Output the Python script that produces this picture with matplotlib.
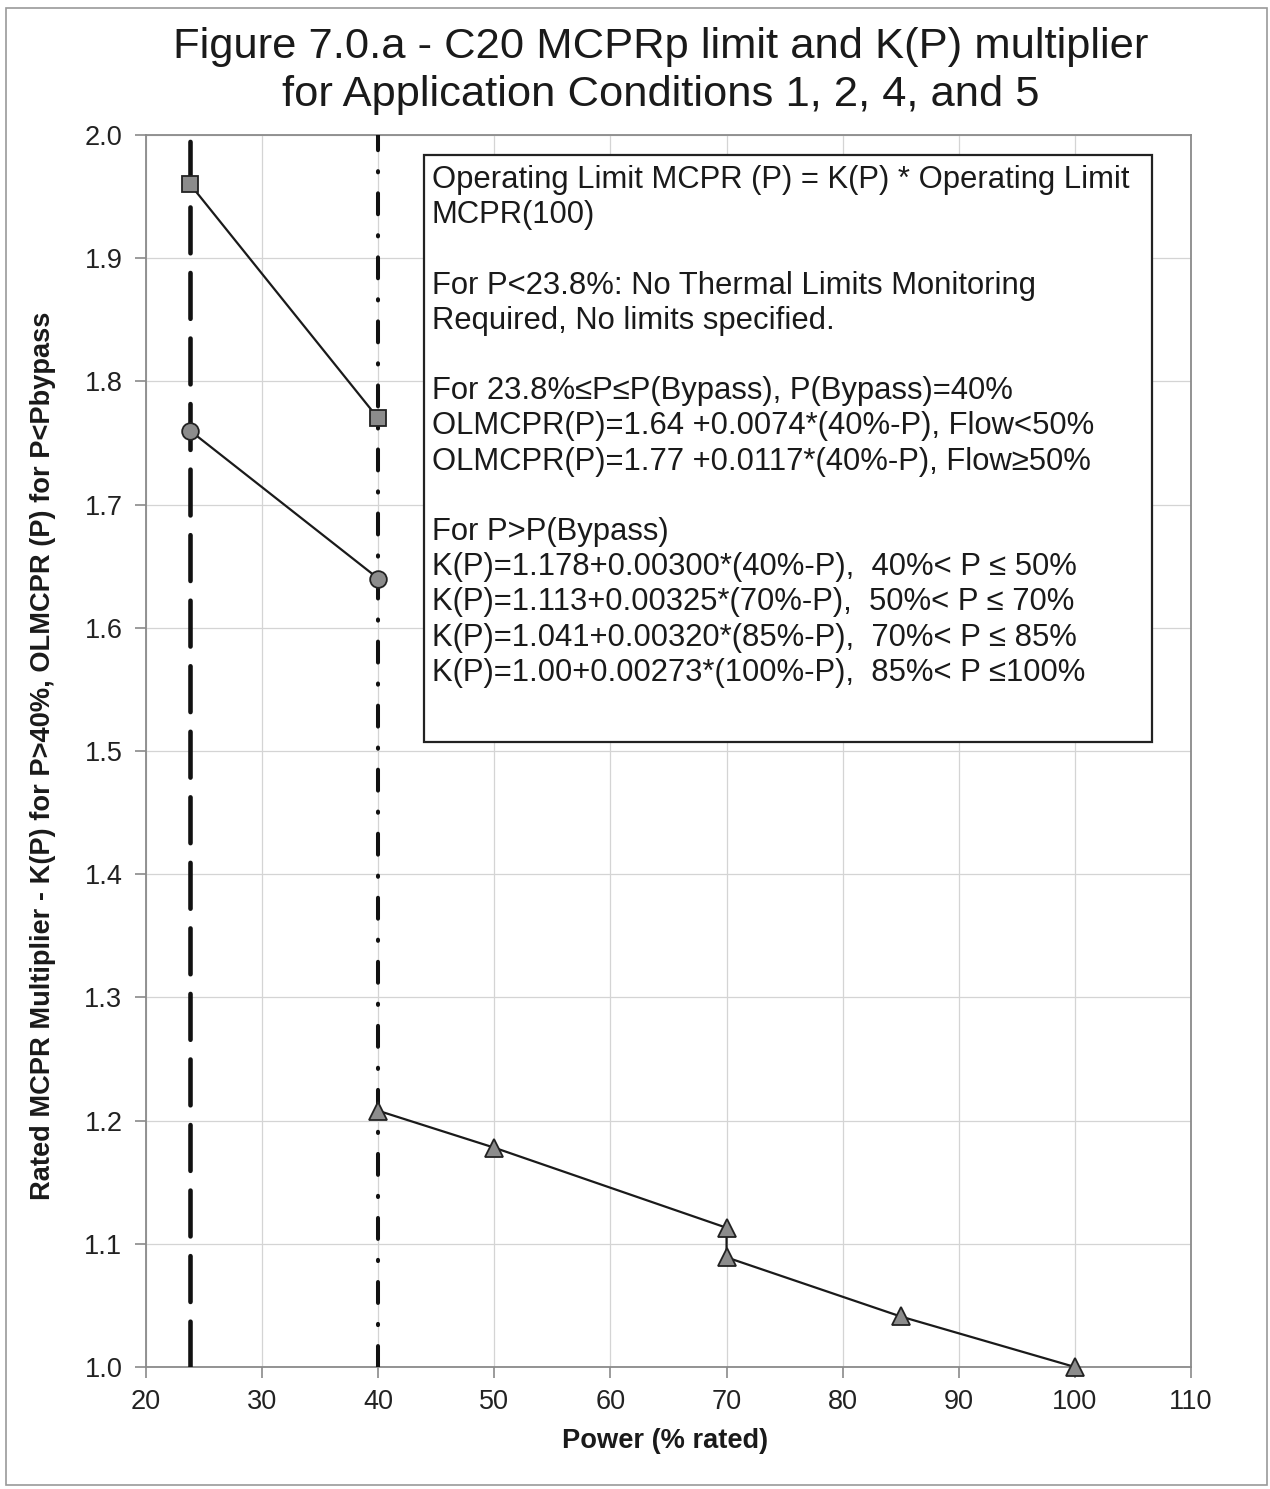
import matplotlib
matplotlib.use("Agg")
import matplotlib.pyplot as plt
from matplotlib.patches import Rectangle

plt.rcParams['font.family'] = ['Liberation Sans', 'DejaVu Sans']

# ---- data ----
sq_x = [23.8, 40]
sq_y = [1.96, 1.77]
circ_x = [23.8, 40]
circ_y = [1.76, 1.64]
tri_x = [40, 50, 70, 70, 85, 100]
tri_y = [1.208, 1.178, 1.113, 1.089, 1.041, 1.00]
vline_dash_x = 23.8
vline_dashdot_x = 40
vline_y = [1.0, 2.0]
xticks = [20, 30, 40, 50, 60, 70, 80, 90, 100, 110]
yticks = [1.0, 1.1, 1.2, 1.3, 1.4, 1.5, 1.6, 1.7, 1.8, 1.9, 2.0]

title = "Figure 7.0.a - C20 MCPRp limit and K(P) multiplier\nfor Application Conditions 1, 2, 4, and 5"
xlabel = "Power (% rated)"
ylabel = "Rated MCPR Multiplier - K(P) for P>40%, OLMCPR (P) for P<Pbypass"
box_lines = [
    "Operating Limit MCPR (P) = K(P) * Operating Limit",
    "MCPR(100)",
    "",
    "For P<23.8%: No Thermal Limits Monitoring",
    "Required, No limits specified.",
    "",
    "For 23.8%\u2264P\u2264P(Bypass), P(Bypass)=40%",
    "OLMCPR(P)=1.64 +0.0074*(40%-P), Flow<50%",
    "OLMCPR(P)=1.77 +0.0117*(40%-P), Flow\u226550%",
    "",
    "For P>P(Bypass)",
    "K(P)=1.178+0.00300*(40%-P),  40%< P \u2264 50%",
    "K(P)=1.113+0.00325*(70%-P),  50%< P \u2264 70%",
    "K(P)=1.041+0.00320*(85%-P),  70%< P \u2264 85%",
    "K(P)=1.00+0.00273*(100%-P),  85%< P \u2264100%",
]

W, H = 1270, 1489
fig = plt.figure(figsize=(W / 100, H / 100), dpi=100)
fig.patch.set_facecolor('white')

# outer border
fig.patches.append(Rectangle((6 / W, 1 - 1485 / H), (1267 - 6) / W, (1485 - 8) / H,
                             transform=fig.transFigure, fill=False,
                             edgecolor='#9a9a9a', linewidth=1.2))

ax_l, ax_r, ax_t, ax_b = 146, 1191, 135, 1367
ax = fig.add_axes([ax_l / W, 1 - ax_b / H, (ax_r - ax_l) / W, (ax_b - ax_t) / H])

ax.set_xlim(20, 110)
ax.set_ylim(1.0, 2.0)
ax.set_xticks(xticks)
ax.set_yticks(yticks)
ax.set_xticklabels([str(v) for v in xticks])
ax.set_yticklabels([f"{v:.1f}" for v in yticks])
ax.grid(True, color='#d4d4d4', linewidth=0.9)
ax.set_axisbelow(True)
for s in ax.spines.values():
    s.set_color('#8a8a8a')
    s.set_linewidth(1.3)
ax.tick_params(axis='both', direction='out', length=8, width=1.2, color='#8a8a8a',
               labelsize=19.5, labelcolor='#222222')
ax.tick_params(axis='x', pad=8)
ax.tick_params(axis='y', pad=9)

# vertical lines
ax.plot([vline_dash_x, vline_dash_x], vline_y, color='#111111', linewidth=3.3,
        dashes=(10, 4.3), dash_capstyle='round', zorder=3)
ax.plot([vline_dashdot_x, vline_dashdot_x], vline_y, color='#111111', linewidth=2.9,
        dashes=(5.2, 5.2, 0.3, 5.2), dash_capstyle='round', zorder=3)

marker_fc = '#8c8c8c'
marker_ec = '#222222'
ax.plot(sq_x, sq_y, color='#1a1a1a', linewidth=1.6, marker='s', markersize=11,
        markerfacecolor=marker_fc, markeredgecolor=marker_ec, markeredgewidth=1.3,
        zorder=4, clip_on=False)
ax.plot(circ_x, circ_y, color='#1a1a1a', linewidth=1.6, marker='o', markersize=12,
        markerfacecolor=marker_fc, markeredgecolor=marker_ec, markeredgewidth=1.3,
        zorder=4, clip_on=False)
ax.plot(tri_x, tri_y, color='#1a1a1a', linewidth=1.6, marker='^', markersize=12.5,
        markerfacecolor=marker_fc, markeredgecolor=marker_ec, markeredgewidth=1.3,
        zorder=4, clip_on=False)

# annotation box (axes fraction)
def fx(px):
    return (px - ax_l) / (ax_r - ax_l)

def fy(py):
    return 1 - (py - ax_t) / (ax_b - ax_t)

ax.add_patch(Rectangle((fx(424), fy(742)), fx(1152) - fx(424), fy(155) - fy(742),
                       transform=ax.transAxes, facecolor='white', edgecolor='#222222',
                       linewidth=1.6, zorder=5))
for i, line in enumerate(box_lines):
    if line:
        ax.text(fx(432), fy(180 + 35.2 * i), line, transform=ax.transAxes,
                fontsize=22.3, va='center', ha='left', color='#1a1a1a', zorder=6)

fig.text(661 / W, 1 - 71 / H, title, ha='center', va='center', fontsize=31.3,
         color='#1a1a1a', linespacing=1.27)
fig.text(665 / W, 1 - 1441 / H, xlabel, ha='center', va='center', fontsize=19.6,
         fontweight='bold', color='#1a1a1a')
fig.text(43 / W, 1 - 756 / H, ylabel, ha='center', va='center', fontsize=19.6,
         fontweight='bold', color='#1a1a1a', rotation=90)

fig.savefig('out.png', dpi=100)
